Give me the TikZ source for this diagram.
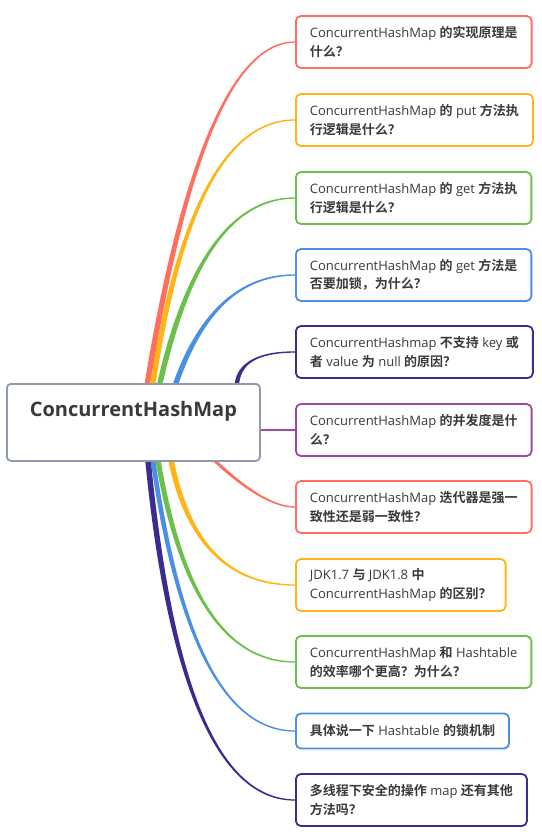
\documentclass[tikz,border=0pt]{standalone}
\usepackage{fontspec}
\setmainfont{Open Sans}
\newfontfamily\cjk{Noto Sans CJK SC}[BoldFont={Noto Sans CJK SC Bold}]
\usetikzlibrary{calc,backgrounds}

\definecolor{mred}{HTML}{FF6E5E}
\definecolor{morange}{HTML}{FFB517}
\definecolor{mgreen}{HTML}{6BC04B}
\definecolor{mblue}{HTML}{4A90E2}
\definecolor{mindigo}{HTML}{3B2D8F}
\definecolor{mpurple}{HTML}{9C4A9D}
\definecolor{rootgray}{HTML}{8E9AAC}
\definecolor{textgray}{HTML}{3A3A3A}

\newcommand{\zh}[1]{{\cjk\bfseries #1}}

% tapered branch: colour, start, end, bend shift, side (1 up, -1 down), half width
\newcommand{\branch}[6]{%
  \coordinate (bs) at (#2);
  \coordinate (be) at (#3);
  \coordinate (bq) at ($(bs |- be)+(#4,0)$);
  \coordinate (ba) at ($(bs)!2/3!(bq)$);
  \coordinate (bb) at ($(be)!2/3!(bq)$);
  \fill[#1] ($(bs)+(-#6,0)$) .. controls ($(ba)+(-#6,0)$) and ($(bb)+(0,-#6/2*#5)$) .. ($(be)+(0,-0.6*#5)$)
    -- ($(be)+(0,0.6*#5)$) .. controls ($(bb)+(0,#6/2*#5)$) and ($(ba)+(#6,0)$) .. ($(bs)+(#6,0)$) -- cycle;
}

\begin{document}
\begin{tikzpicture}[x=1pt, y=-1pt,
    question/.style={draw=#1, line width=1.8, rounded corners=5, fill=white,
      anchor=west, align=left, inner xsep=14, inner ysep=4, minimum height=52,
      text=textgray, font=\fontsize{13}{18.5}\selectfont},
    rootbox/.style={draw=rootgray, line width=1.8, rounded corners=4, fill=white,
      anchor=north west, minimum width=253, inner ysep=0, text height=32.5, text depth=44.5,
      text=textgray, font=\fontsize{20}{24}\selectfont\bfseries}]

    \useasboundingbox (0,0) rectangle (541,835);

    % Root
    \node[rootbox] (root) at (6,383) {ConcurrentHashMap};

    % Questions
    \node[question=mred] (q1) at (295,42) {ConcurrentHashMap \zh{的实现原理是}\\\zh{什么？}};
    \node[question=morange] (q2) at (295,120) {ConcurrentHashMap \zh{的} put \zh{方法执}\\\zh{行逻辑是什么？}};
    \node[question=mgreen] (q3) at (295,198) {ConcurrentHashMap \zh{的} get \zh{方法执}\\\zh{行逻辑是什么？}};
    \node[question=mblue] (q4) at (295,275) {ConcurrentHashMap \zh{的} get \zh{方法是}\\\zh{否要加锁，为什么？}};
    \node[question=mindigo] (q5) at (295,352) {ConcurrentHashmap \zh{不支持} key \zh{或}\\\zh{者} value \zh{为} null \zh{的原因？}};
    \node[question=mpurple] (q6) at (295,430) {ConcurrentHashMap \zh{的并发度是什}\\\zh{么？}};
    \node[question=mred] (q7) at (295,507) {ConcurrentHashMap \zh{迭代器是强一}\\\zh{致性还是弱一致性？}};
    \node[question=morange] (q8) at (295,585) {JDK1.7 \zh{与} JDK1.8 \zh{中}\\ConcurrentHashMap \zh{的区别？}};
    \node[question=mgreen] (q9) at (295,662) {ConcurrentHashMap \zh{和} Hashtable\\\zh{的效率哪个更高？为什么？}};
    \node[question=mblue, minimum height=35] (q10) at (295,731) {\zh{具体说一下} Hashtable \zh{的锁机制}};
    \node[question=mindigo] (q11) at (295,800) {\zh{多线程下安全的操作} map \zh{还有其他}\\\zh{方法吗？}};

    % Branches
    \begin{scope}[on background layer]
        \coordinate (s1) at (147.5,383);
        \coordinate (s2) at (153,383);
        \coordinate (s3) at (160,383);
        \coordinate (s4) at (176,383);
        \coordinate (s5) at (237,383);
        \coordinate (s7) at (214,460);
        \coordinate (s8) at (171,460);
        \coordinate (s9) at (158,460);
        \coordinate (s10) at (153,460);
        \coordinate (s11) at (148,460);

        \branch{mred}{s1}{q1.west}{56}{1}{2.8}
        \branch{morange}{s2}{q2.west}{40}{1}{2.7}
        \branch{mgreen}{s3}{q3.west}{42}{1}{2.8}
        \branch{mblue}{s4}{q4.west}{38}{1}{2.8}
        \branch{mindigo}{s5}{q5.west}{4}{1}{2.2}
        \draw[mpurple, line width=2.2] (root.east |- q6.west) -- (q6.west);
        \branch{mred}{s7}{q7.west}{50}{-1}{2.3}
        \branch{morange}{s8}{q8.west}{25}{-1}{2.8}
        \branch{mgreen}{s9}{q9.west}{34}{-1}{2.6}
        \branch{mblue}{s10}{q10.west}{38}{-1}{2.4}
        \branch{mindigo}{s11}{q11.west}{33}{-1}{2.8}
    \end{scope}

\end{tikzpicture}
\end{document}
